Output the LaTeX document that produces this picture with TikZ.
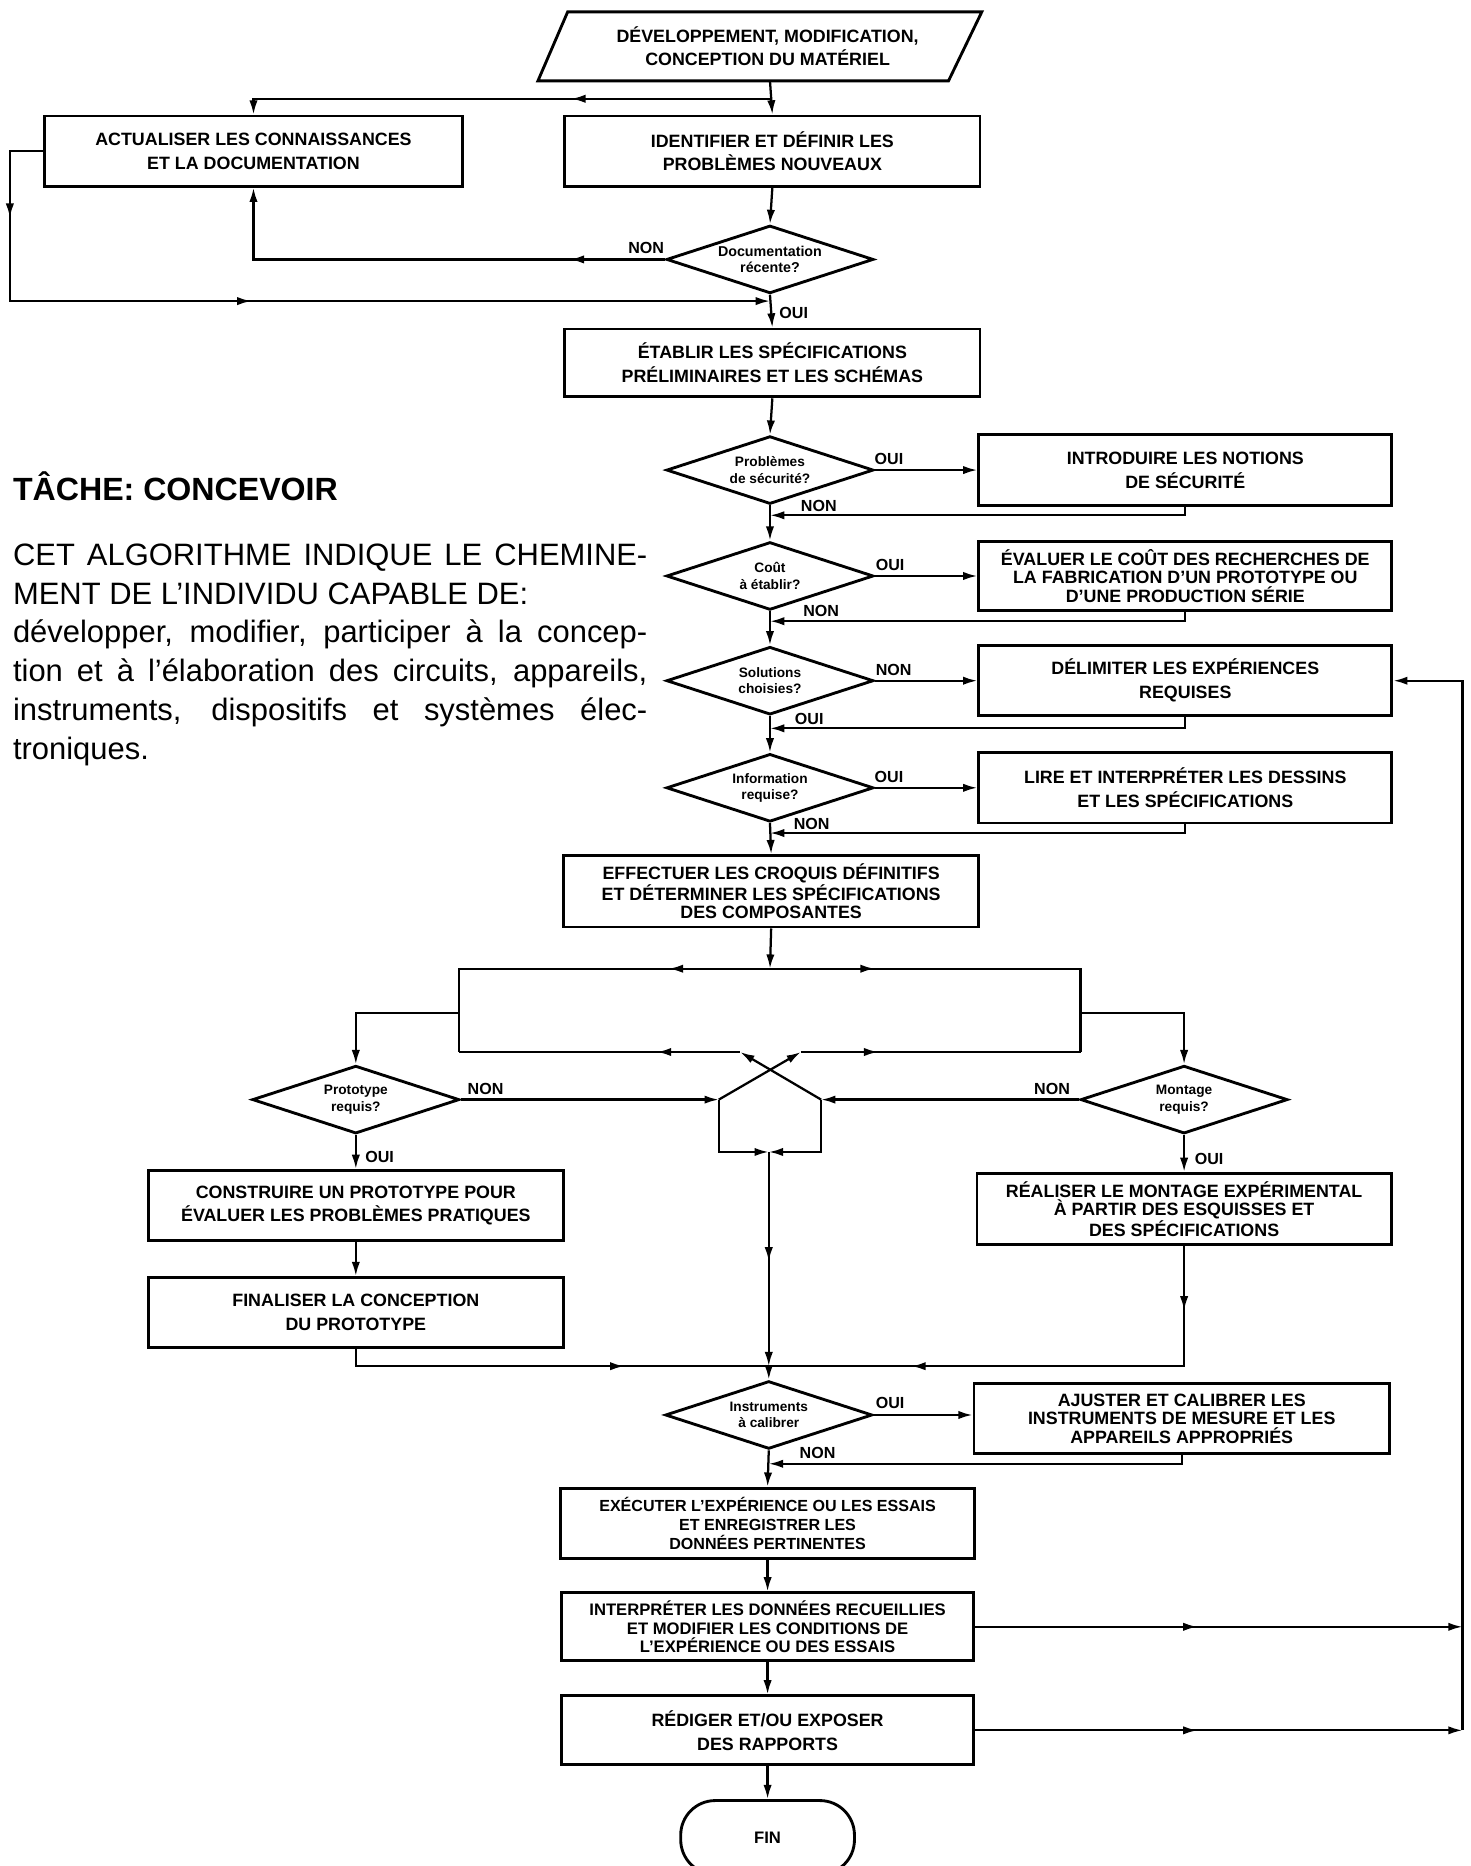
\documentclass[tikz,border=0pt]{standalone}
\usepackage{fontspec}
\setmainfont{Liberation Sans}
\usepackage{tikz}
\usetikzlibrary{arrows.meta,shapes.geometric,decorations.markings}

\tikzset{
  box/.style={draw, line width=2.4pt, minimum width=349, minimum height=59, align=center, inner sep=2pt, font=\bfseries\fontsize{15}{20}\selectfont},
  boxiii/.style={box, font=\bfseries\fontsize{15}{15.5}\selectfont},
  test/.style={diamond, draw, line width=2.4pt, aspect=3, inner sep=0pt, minimum width=174, minimum height=57, align=center, font=\bfseries\fontsize{11.5}{14}\selectfont},
  lbl/.style={font=\bfseries\fontsize{13.5}{15}\selectfont, inner sep=0pt},
  arr/.style={-{Latex[length=12pt,width=7pt]}},
  midarr/.style={postaction={decorate}, decoration={markings, mark=at position #1 with {\arrow{Latex[length=12pt,width=7pt]}}}},
  midarrs/.style 2 args={postaction={decorate}, decoration={markings, mark=at position #1 with {\arrow{Latex[length=12pt,width=7pt]}}, mark=at position #2 with {\arrow{Latex[length=12pt,width=7pt]}}}},
}

\begin{document}
\begin{tikzpicture}[x=1pt,y=-1pt,line width=1.9pt]
  \useasboundingbox (0,0) rectangle (1236,1568);

  \draw[line width=2.4pt] (477,10) -- (825,10) -- (797,68) -- (452,68) -- cycle;
  \node[align=center, font=\bfseries\fontsize{15}{19}\selectfont] (dev) at (645,39) {DÉVELOPPEMENT, MODIFICATION,\\CONCEPTION DU MATÉRIEL};
  \node[box, minimum width=351] (act) at (213,127) {ACTUALISER LES CONNAISSANCES\\ET LA DOCUMENTATION};
  \node[box] (ident) at (649,127) {IDENTIFIER ET DÉFINIR LES\\PROBLÈMES NOUVEAUX};
  \node[test, font=\bfseries\fontsize{12}{14}\selectfont] (doc) at (647,218) {Documentation\\récente?};
  \node[box, minimum height=57] (etab) at (649,305) {ÉTABLIR LES SPÉCIFICATIONS\\PRÉLIMINAIRES ET LES SCHÉMAS};

  \node[test] (secu) at (647,395) {Problèmes\\de sécurité?};
  \node[box, minimum width=347, minimum height=60] (intro) at (996,395) {INTRODUIRE LES NOTIONS\\DE SÉCURITÉ};
  \node[test] (cout) at (647,484) {Coût\\à établir?};
  \node[boxiii, minimum width=347, minimum height=58] (eval) at (996,484) {ÉVALUER LE COÛT DES RECHERCHES DE\\LA FABRICATION D'UN PROTOTYPE OU\\D'UNE PRODUCTION SÉRIE};
  \node[test] (solu) at (647,572) {Solutions\\choisies?};
  \node[box, minimum width=347] (delim) at (996,572) {DÉLIMITER LES EXPÉRIENCES\\REQUISES};
  \node[test] (info) at (647,662) {Information\\requise?};
  \node[box, minimum width=347] (lire) at (996,662) {LIRE ET INTERPRÉTER LES DESSINS\\ET LES SPÉCIFICATIONS};
  \node[boxiii, minimum height=60] (effect) at (648,749) {EFFECTUER LES CROQUIS DÉFINITIFS\\ET DÉTERMINER LES SPÉCIFICATIONS\\DES COMPOSANTES};

  \node[test] (proto) at (299,924) {Prototype\\requis?};
  \node[test] (mont) at (995,924) {Montage\\requis?};
  \node[box] (constr) at (299,1013) {CONSTRUIRE UN PROTOTYPE POUR\\ÉVALUER LES PROBLÈMES PRATIQUES};
  \node[box] (final) at (299,1103) {FINALISER LA CONCEPTION\\DU PROTOTYPE};
  \node[boxiii, minimum width=348, minimum height=60] (real) at (995,1016) {RÉALISER LE MONTAGE EXPÉRIMENTAL\\À PARTIR DES ESQUISSES ET\\DES SPÉCIFICATIONS};

  \node[test] (instr) at (646,1189) {Instruments\\à calibrer};
  \node[boxiii] (ajust) at (993,1192) {AJUSTER ET CALIBRER LES\\INSTRUMENTS DE MESURE ET LES\\APPAREILS APPROPRIÉS};
  \node[boxiii, minimum width=348, font=\bfseries\fontsize{13.5}{16}\selectfont] (exec) at (645,1280) {EXÉCUTER L'EXPÉRIENCE OU LES ESSAIS\\ET ENREGISTRER LES\\DONNÉES PERTINENTES};
  \node[boxiii, minimum width=346, minimum height=57, font=\bfseries\fontsize{14}{15.5}\selectfont] (interp) at (645,1367) {INTERPRÉTER LES DONNÉES RECUEILLIES\\ET MODIFIER LES CONDITIONS DE\\L'EXPÉRIENCE OU DES ESSAIS};
  \node[box, minimum width=346, minimum height=58] (redig) at (645,1454) {RÉDIGER ET/OU EXPOSER\\DES RAPPORTS};
  \node[draw, line width=2.4pt, rounded corners=29pt, minimum width=146, minimum height=62, font=\bfseries\fontsize{14}{15}\selectfont] (fin) at (645,1544) {FIN};

  \node[anchor=west, inner sep=0pt, font=\bfseries\fontsize{27}{32}\selectfont] (title) at (10,409) {TÂCHE: CONCEVOIR};
  \node[anchor=north west, inner sep=0pt, align=left, font=\fontsize{26}{32.6}\selectfont] (desc) at (10,456) {%
    \makebox[533pt][s]{CET ALGORITHME INDIQUE LE CHEMINE-}\\
    MENT DE L'INDIVIDU CAPABLE DE:\\
    \makebox[533pt][s]{développer, modifier, participer à la concep-}\\
    \makebox[533pt][s]{tion et à l'élaboration des circuits, appareils,}\\
    \makebox[533pt][s]{instruments, dispositifs et systèmes élec-}\\
    troniques.};

  \coordinate (devb) at (647,68);
  \coordinate (br) at (647,83);
  \coordinate (r0) at (647,253);
  \coordinate (r1) at (647,433);
  \coordinate (r2) at (647,522);
  \coordinate (r3) at (647,612);
  \coordinate (r4) at (647,700);
  \coordinate (ftop) at (647,814);
  \coordinate (ftl) at (386,814);
  \coordinate (ftr) at (908,814);
  \coordinate (fbl) at (386,884);
  \coordinate (fbr) at (908,884);
  \coordinate (fml) at (386,851);
  \coordinate (fmr) at (908,851);
  \coordinate (xl) at (622,884);
  \coordinate (xr) at (673,884);
  \coordinate (pl) at (604,924);
  \coordinate (pr) at (690,924);
  \coordinate (plb) at (604,968);
  \coordinate (prb) at (690,968);
  \coordinate (pj) at (646,968);
  \coordinate (jn) at (646,1148);
  \coordinate (r5) at (646,1230);
  \coordinate (fb1) at (1229,1367);
  \coordinate (fb2) at (1229,1454);
  \coordinate (fbt) at (1229,572);

  \draw[arr] (devb) -- (ident.north);
  \draw[arr, midarr=167pt] (br) -| (act.north);
  \draw[arr] (ident.south) -- (doc.north);
  \draw[arr, midarr=80pt] (doc.west) -| (act.south);
  \draw[arr, midarrs={84pt}{357pt}] (act.west) -- ++(-28,0) |- (r0);
  \draw[arr] (doc.south) -- (etab.north);
  \draw[arr] (etab.south) -- (secu.north);

  \draw[arr] (secu.east) -- (intro.west);
  \draw[arr] (intro.south) |- (r1);
  \draw[arr] (secu.south) -- (cout.north);
  \draw[arr] (cout.east) -- (eval.west);
  \draw[arr] (eval.south) |- (r2);
  \draw[arr] (cout.south) -- (solu.north);
  \draw[arr] (solu.east) -- (delim.west);
  \draw[arr] (delim.south) |- (r3);
  \draw[arr] (solu.south) -- (info.north);
  \draw[arr] (info.east) -- (lire.west);
  \draw[arr] (lire.south) |- (r4);
  \draw[arr] (info.south) -- (effect.north);
  \draw[arr] (effect.south) -- (ftop);

  \draw[midarr=85pt] (ftop) -- (ftl) -- (fbl);
  \draw[midarr=88pt] (ftop) -- (ftr) -- (fbr);
  \draw[midarr=70pt] (xl) -- (fbl);
  \draw[midarr=65pt] (xr) -- (fbr);
  \draw[arr] (fml) -| (proto.north);
  \draw[arr] (fmr) -| (mont.north);
  \draw[arr] (pr) -- (xl);
  \draw[arr] (pl) -- (xr);
  \draw[arr] (proto.east) -- (pl);
  \draw[arr] (mont.west) -- (pr);
  \draw[arr] (pl) -- (plb) -- (pj);
  \draw[arr] (pr) -- (prb) -- (pj);
  \draw[arr, midarr=92pt] (pj) -- (jn);

  \draw[arr] (proto.south) -- (constr.north);
  \draw[arr] (constr.south) -- (final.north);
  \draw[midarr=240pt] (final.south) |- (jn);
  \draw[arr] (mont.south) -- (real.north);
  \draw[midarrs={54pt}{330pt}] (real.south) |- (jn);

  \draw[arr] (jn) -- (instr.north);
  \draw[arr] (instr.east) -- (instr.east -| ajust.west);
  \draw[arr] (ajust.south) |- (r5);
  \draw[arr] (instr.south) -- (exec.north);
  \draw[arr] (exec.south) -- (interp.north);
  \draw[arr] (interp.south) -- (redig.north);
  \draw[arr] (redig.south) -- (fin.north);
  \draw[arr, midarr=187pt] (interp.east) -- (fb1);
  \draw[arr, midarr=187pt] (redig.east) -- (fb2);
  \draw[arr] (fb2) -- (fbt) -- (delim.east);

  \node[lbl] at (543,208) {NON};
  \node[lbl] at (667,263) {OUI};
  \node[lbl] at (747,386) {OUI};
  \node[lbl] at (688,425) {NON};
  \node[lbl] at (748,475) {OUI};
  \node[lbl] at (690,513) {NON};
  \node[lbl] at (751,563) {NON};
  \node[lbl] at (680,604) {OUI};
  \node[lbl] at (747,653) {OUI};
  \node[lbl] at (682,692) {NON};
  \node[lbl] at (408,915) {NON};
  \node[lbl] at (319,972) {OUI};
  \node[lbl] at (884,915) {NON};
  \node[lbl] at (1016,974) {OUI};
  \node[lbl] at (748,1179) {OUI};
  \node[lbl] at (687,1221) {NON};
\end{tikzpicture}
\end{document}
